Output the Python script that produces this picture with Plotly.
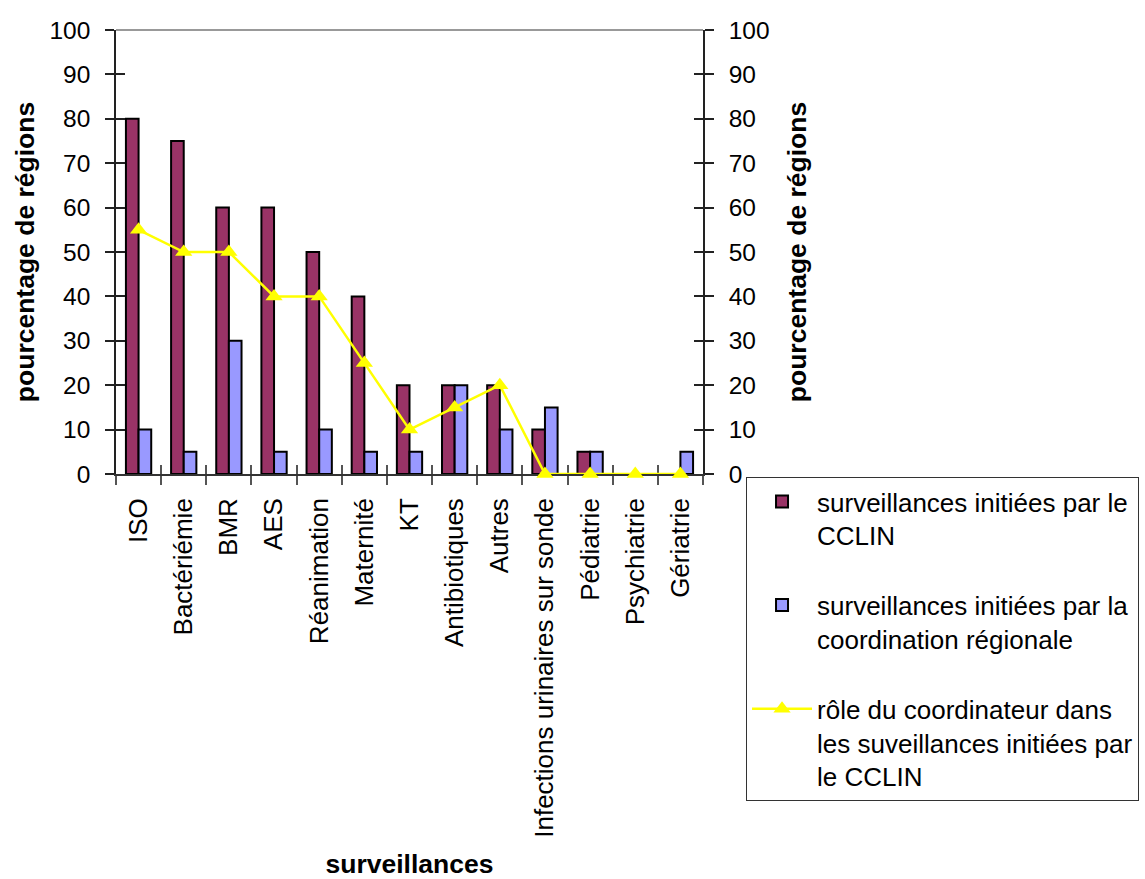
import plotly.graph_objects as go

# Surveillance categories and percentages of regions
categories = [
    "ISO", "Bactériémie", "BMR", "AES", "Réanimation", "Maternité", "KT",
    "Antibiotiques", "Autres", "Infections urinaires sur sonde",
    "Pédiatrie", "Psychiatrie", "Gériatrie",
]
cclin = [80, 75, 60, 60, 50, 40, 20, 20, 20, 10, 5, 0, 0]
coordination = [10, 5, 30, 5, 10, 5, 5, 20, 10, 15, 5, 0, 5]
role_coordinateur = [55, 50, 50, 40, 40, 25, 10, 15, 20, 0, 0, 0, 0]

y_ticks = list(range(0, 101, 10))

FONT = "Liberation Sans, Arial, sans-serif"
YTICK_SIZE = 24.5
XTICK_SIZE = 26
TITLE_SIZE = 26.5
LEGEND_SIZE = 26

fig = go.Figure()
fig.add_trace(go.Bar(
    x=categories, y=cclin,
    name="surveillances initiées par le<br>CCLIN",
    marker=dict(color="#993366", line=dict(color="black", width=2)),
    legendgroup="a",
))
fig.add_trace(go.Bar(
    x=categories, y=coordination,
    name="surveillances initiées par la<br>coordination régionale",
    marker=dict(color="#9999FF", line=dict(color="black", width=2)),
    legendgroup="b",
))
fig.add_trace(go.Scatter(
    x=categories, y=role_coordinateur,
    name="rôle du coordinateur dans<br>les suveillances initiées par<br>le CCLIN",
    mode="lines+markers",
    line=dict(color="#FFFF00", width=2.5),
    marker=dict(symbol="triangle-up", size=15, color="#FFFF00"),
    cliponaxis=False,
    legendgroup="c",
))

# empty helper traces so the secondary (tick-only) axes get drawn
for xa, ya in [("x2", "y"), ("x", "y2"), ("x", "y3"), ("x", "y4")]:
    fig.add_trace(go.Scatter(x=[], y=[], xaxis=xa, yaxis=ya, showlegend=False,
                             hoverinfo="skip"))

axis_common = dict(
    range=[0, 100], tickvals=y_ticks, ticklen=9, tickwidth=1.5,
    tickcolor="#222", showgrid=False, zeroline=False, automargin=False,
    tickfont=dict(size=YTICK_SIZE),
)

fig.update_layout(
    width=1145, height=879,
    margin=dict(l=116, r=442, t=30, b=405, autoexpand=False),
    paper_bgcolor="white", plot_bgcolor="white",
    font=dict(family=FONT, color="black", size=YTICK_SIZE),
    barmode="group", bargap=0.44, bargroupgap=0,
    xaxis=dict(
        type="category", categoryorder="array", categoryarray=categories,
        range=[-0.5, len(categories) - 0.5], automargin=False,
        tickangle=-90, ticks="outside", tickson="boundaries", ticklen=9,
        tickwidth=1.5, tickcolor="#555", showline=True, linecolor="#333",
        linewidth=1.5, showgrid=False, ticklabelstandoff=12,
        layer="below traces",
        tickfont=dict(size=XTICK_SIZE),
        title=dict(text="<b>surveillances</b>", font=dict(size=TITLE_SIZE), standoff=28),
    ),
    xaxis2=dict(
        overlaying="x", range=[-0.5, len(categories) - 0.5], tickmode="linear",
        tick0=-0.5, dtick=1, ticks="inside", ticklen=9, tickwidth=1.5,
        tickcolor="#555", showticklabels=False, showgrid=False, zeroline=False,
        showline=False, anchor="y", side="bottom", layer="below traces",
        automargin=False,
    ),
    yaxis=dict(
        **axis_common, ticks="outside", showline=True, linecolor="#222",
        linewidth=1.5, ticklabelstandoff=10,
        title=dict(text="<b>pourcentage de régions</b>", font=dict(size=TITLE_SIZE), standoff=7),
    ),
    yaxis3=dict(
        **axis_common, overlaying="y", ticks="inside", showticklabels=False,
        side="left",
    ),
    yaxis2=dict(
        **axis_common, overlaying="y", side="right", ticks="outside",
        showline=True, linecolor="#222", linewidth=1.5, ticklabelstandoff=10,
        title=dict(text="<b>pourcentage de régions</b>", font=dict(size=TITLE_SIZE), standoff=19),
    ),
    yaxis4=dict(
        **axis_common, overlaying="y", side="right", ticks="inside",
        showticklabels=False,
    ),
    legend=dict(
        x=1.0733, y=-0.007, xanchor="left", yanchor="top",
        bordercolor="#333", borderwidth=1, bgcolor="white",
        font=dict(size=LEGEND_SIZE), tracegroupgap=33, itemwidth=60,
        valign="top",
    ),
    showlegend=True,
)

# thin grey frame line along the top of the plotting area
fig.add_shape(type="line", xref="paper", yref="paper", x0=0, x1=1, y0=1, y1=1,
              line=dict(color="#999", width=2))

fig.write_html("out.html")
